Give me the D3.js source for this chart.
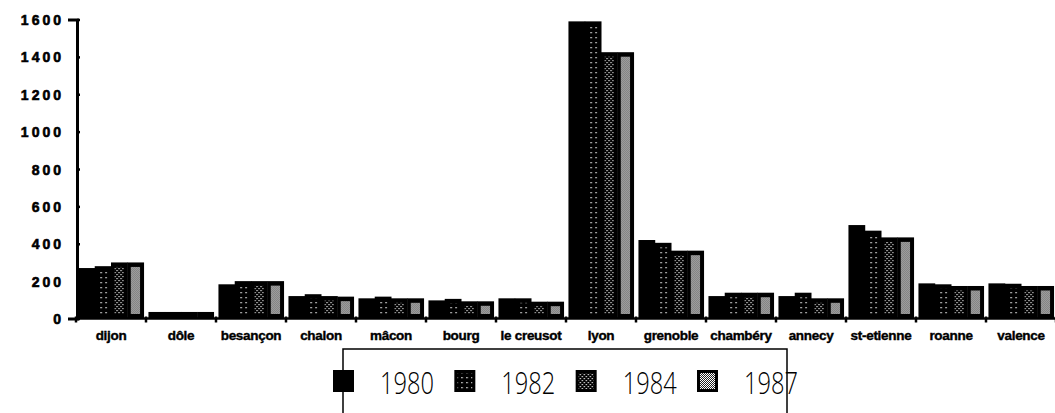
<!DOCTYPE html>
<html><head><meta charset="utf-8">
<script src="https://cdn.jsdelivr.net/npm/d3@7"></script>
<style>
html,body{margin:0;padding:0;background:#fff;}
svg{display:block;}
</style></head>
<body>
<svg id="chart" width="1055" height="413"></svg>
<script>
const cities = ["dijon","dôle","besançon","chalon","mâcon","bourg","le creusot","lyon","grenoble","chambéry","annecy","st-etienne","roanne","valence"];
const years = ["1980","1982","1984","1987"];
const v1980 = [270, 35, 183, 120, 108, 97, 108, 1590, 420, 120, 120, 500, 188, 188];
const v1982 = [280, 35, 200, 130, 117, 105, 108, 1590, 405, 138, 138, 470, 183, 186];
const v1984 = [300, 35, 200, 120, 108, 92, 90, 1425, 363, 138, 108, 434, 174, 174];
const v1987 = [300, 35, 200, 117, 108, 92, 90, 1425, 363, 138, 108, 434, 174, 174];
const yTicks = [0, 200, 400, 600, 800, 1000, 1200, 1400, 1600];

const series = {"1980": v1980, "1982": v1982, "1984": v1984, "1987": v1987};
const rows = cities.map((c, i) => ({city: c, values: years.map(y => ({year: y, value: series[y][i]}))}));

const svg = d3.select("#chart");
const defs = svg.append("defs");

// patterns
const p82 = defs.append("pattern").attr("id","p1982").attr("patternUnits","userSpaceOnUse").attr("width",5).attr("height",5);
p82.append("rect").attr("width",5).attr("height",5).attr("fill","#000");
p82.append("rect").attr("x",2).attr("y",2).attr("width",1.3).attr("height",1.3).attr("fill","#fff");

const p84 = defs.append("pattern").attr("id","p1984").attr("patternUnits","userSpaceOnUse").attr("width",4).attr("height",4);
p84.append("rect").attr("width",4).attr("height",4).attr("fill","#000");
p84.append("rect").attr("x",0).attr("y",0).attr("width",1.2).attr("height",1.2).attr("fill","#fff");
p84.append("rect").attr("x",2).attr("y",2).attr("width",1.2).attr("height",1.2).attr("fill","#fff");

const p87 = defs.append("pattern").attr("id","p1987").attr("patternUnits","userSpaceOnUse").attr("width",2).attr("height",2);
p87.append("rect").attr("width",2).attr("height",2).attr("fill","#fff");
p87.append("rect").attr("x",0).attr("y",0).attr("width",1).attr("height",1).attr("fill","#222");
p87.append("rect").attr("x",1).attr("y",1).attr("width",1).attr("height",1).attr("fill","#222");

const fills = {"1980":"#000","1982":"url(#p1982)","1984":"url(#p1984)","1987":"url(#p1987)"};

const y = d3.scaleLinear().domain([0, 1600]).range([318.5, 19.5]);
const x0 = d3.scaleBand().domain(cities).range([76, 1056]).paddingInner(0.07).paddingOuter(0.035);
const x1 = d3.scaleBand().domain(years).range([0, x0.bandwidth()]);

// bars
const groups = svg.append("g").selectAll("g").data(rows).join("g")
  .attr("transform", d => `translate(${x0(d.city)},0)`);

groups.selectAll("rect.outer").data(d => d.values).join("rect")
  .attr("class","outer")
  .attr("x", d => x1(d.year))
  .attr("y", d => y(d.value))
  .attr("width", x1.bandwidth() + 0.5)
  .attr("height", d => y(0) - y(d.value))
  .attr("fill", "#000");

const inset = 3.5;
groups.selectAll("rect.inner").data(d => d.values.filter(v => v.year !== "1980")).join("rect")
  .attr("class","inner")
  .attr("x", d => x1(d.year) + inset)
  .attr("y", d => y(d.value) + inset + 1)
  .attr("width", x1.bandwidth() - 2 * inset)
  .attr("height", d => Math.max(0, y(0) - y(d.value) - 2 * inset - 2))
  .attr("fill", d => fills[d.year]);

// y axis
const yAxis = svg.append("g").attr("transform","translate(77,0)")
  .call(d3.axisLeft(y).tickValues(yTicks).tickSize(9).tickFormat(d3.format("d")));
yAxis.select(".domain").attr("stroke","#000").attr("stroke-width",3);
yAxis.selectAll(".tick line").attr("stroke","#000").attr("stroke-width",2.5).attr("x2",3);
yAxis.selectAll(".tick text")
  .attr("x",-13).attr("dy","0.36em")
  .attr("font-family","Liberation Sans, Arial, sans-serif")
  .attr("font-weight","bold").attr("font-size","14px")
  .attr("letter-spacing","3px")
  .attr("stroke","#000").attr("stroke-width",0.6)
  .attr("fill","#000");

// x axis line and boundary ticks
const [r0, r1] = x0.range();
svg.append("line").attr("x1", r0).attr("x2", 1055).attr("y1", y(0)).attr("y2", y(0))
  .attr("stroke","#000").attr("stroke-width",2.5);
const boundaries = d3.range(cities.length + 1).map(i => r0 + i * x0.step());
svg.append("g").selectAll("line").data(boundaries).join("line")
  .attr("x1", d => d).attr("x2", d => d)
  .attr("y1", y(0) - 2).attr("y2", y(0) + 4)
  .attr("stroke","#000").attr("stroke-width",2.5);

// x labels
svg.append("g").selectAll("text").data(cities).join("text")
  .attr("x", d => x0(d) + x0.bandwidth() / 2)
  .attr("y", 340)
  .attr("text-anchor","middle")
  .attr("font-family","Liberation Sans, Arial, sans-serif")
  .attr("font-weight","bold")
  .attr("font-size","13.5px")
  .attr("letter-spacing","-0.3px")
  .attr("stroke","#000").attr("stroke-width",0.4)
  .attr("fill","#000")
  .text(d => d);

// legend
const lg = svg.append("g");
lg.append("rect").attr("x",343).attr("y",349).attr("width",444).attr("height",80)
  .attr("fill","#fff").attr("stroke","#000").attr("stroke-width",1.5);
const lx = d3.scaleLinear().domain([0, 3]).range([333, 697]);
const items = lg.selectAll("g").data(years).join("g")
  .attr("transform", (d, i) => `translate(${lx(i)},370)`);
items.append("rect").attr("width",21).attr("height",22).attr("fill","#000");
items.filter(d => d !== "1980").append("rect")
  .attr("x",3).attr("y",3).attr("width",15).attr("height",16)
  .attr("fill", d => fills[d]);
items.append("text")
  .attr("transform","translate(47,24) scale(0.74,1)")
  .attr("font-family","Open Sans, Liberation Sans, Arial, sans-serif")
  .attr("font-weight","300")
  .attr("font-size","32px")
  .attr("fill","#000")
  .text(d => d);
</script>
</body></html>
